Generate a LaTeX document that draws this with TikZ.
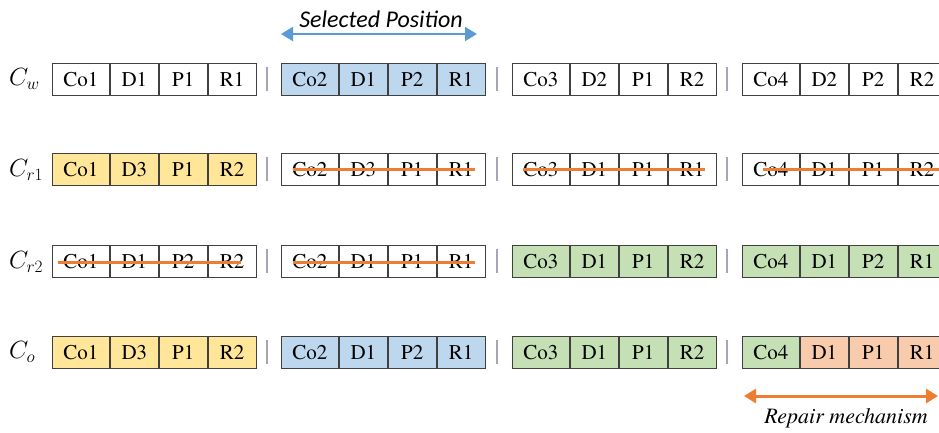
\documentclass[tikz,border=0pt]{standalone}
\usepackage{fontspec}
\newfontfamily\cellfont{texgyretermes}[Extension=.otf,UprightFont=*-regular,ItalicFont=*-italic]
\newfontfamily\calib{Carlito}
\usetikzlibrary{arrows.meta,calc}
\definecolor{cyel}{HTML}{FFE699}
\definecolor{cblue}{HTML}{BDD7EE}
\definecolor{cgreen}{HTML}{C5E0B4}
\definecolor{cpeach}{HTML}{F8CBAD}
\definecolor{corange}{HTML}{ED7D31}
\definecolor{carrow}{HTML}{5B9BD5}
\definecolor{cborder}{HTML}{404040}
\definecolor{csep}{HTML}{A8A4B8}
\newcommand{\blk}[9]{%
  \node[cell,fill=#4,minimum width=57pt] (#1a) at (#2,#3) {#6};
  \node[cell,fill=#5,minimum width=48pt] (#1b) at (#1a.north east) {#7};
  \node[cell,fill=#5,minimum width=48pt] (#1c) at (#1b.north east) {#8};
  \node[cell,fill=#5,minimum width=48pt] (#1d) at (#1c.north east) {#9};
}
\begin{document}
\begin{tikzpicture}[x=1pt,y=-1pt,
  cell/.style={draw=cborder,line width=0.9pt,inner sep=0pt,minimum height=32pt,
    anchor=north west,font=\cellfont\fontsize{21}{21}\selectfont,text=black},
  strike/.style={draw=corange,line width=3pt},
  sepline/.style={draw=csep,line width=1.2pt},
  rowlabel/.style={anchor=west,inner sep=0pt,font=\fontsize{24}{24}\selectfont},
  dblarrow/.style={line width=2pt,{Triangle[length=12pt,width=14pt]}-{Triangle[length=12pt,width=14pt]}}]
\useasboundingbox (0,0) rectangle (939,432);
\clip (0,0) rectangle (939,432);
\fill[white] (0,0) rectangle (939,432);

% row labels
\node[rowlabel] (lw) at (9,79) {$C_w$};
\node[rowlabel] (lr1) at (9,170) {$C_{r1}$};
\node[rowlabel] (lr2) at (9,262) {$C_{r2}$};
\node[rowlabel] (lo) at (9,352) {$C_o$};

% row Cw
\blk{wA}{52}{63}{white}{white}{Co1}{D1}{P1}{R1}
\blk{wB}{281}{63}{cblue}{cblue}{Co2}{D1}{P2}{R1}
\blk{wC}{512}{63}{white}{white}{Co3}{D2}{P1}{R2}
\blk{wD}{742}{63}{white}{white}{Co4}{D2}{P2}{R2}
% row Cr1
\blk{aA}{52}{153}{cyel}{cyel}{Co1}{D3}{P1}{R2}
\blk{aB}{281}{153}{white}{white}{Co2}{D3}{P1}{R1}
\blk{aC}{512}{153}{white}{white}{Co3}{D1}{P1}{R1}
\blk{aD}{742}{153}{white}{white}{Co4}{D1}{P1}{R2}
% row Cr2
\blk{bA}{52}{245}{white}{white}{Co1}{D1}{P2}{R2}
\blk{bB}{281}{245}{white}{white}{Co2}{D1}{P1}{R1}
\blk{bC}{512}{245}{cgreen}{cgreen}{Co3}{D1}{P1}{R2}
\blk{bD}{742}{245}{cgreen}{cgreen}{Co4}{D1}{P2}{R1}
% row Co
\blk{oA}{52}{336}{cyel}{cyel}{Co1}{D3}{P1}{R2}
\blk{oB}{281}{336}{cblue}{cblue}{Co2}{D1}{P2}{R1}
\blk{oC}{512}{336}{cgreen}{cgreen}{Co3}{D1}{P1}{R2}
\blk{oD}{742}{336}{cgreen}{cpeach}{Co4}{D1}{P1}{R1}

% separators
\foreach \t in {63,153,245,336}{
  \foreach \x in {267,497,727}{
    \draw[sepline] (\x,\t+4) -- (\x,\t+28);
  }
}

% strike-through lines
\draw[strike] ([xshift=12pt]aBa.west) -- ([xshift=-11pt]aBd.east);
\draw[strike] ([xshift=11pt]aCa.west) -- ([xshift=-12pt]aCd.east);
\draw[strike] ([xshift=21pt]aDa.west) -- ([xshift=20pt]aDd.east);
\draw[strike] ([xshift=6pt,yshift=-1pt]bAa.west) -- ([xshift=-16pt,yshift=-1pt]bAd.east);
\draw[strike] ([xshift=12pt,yshift=-1pt]bBa.west) -- ([xshift=-11pt,yshift=-1pt]bBd.east);

% selected position
\coordinate (s1) at (281,34);
\coordinate (s2) at (477,34);
\draw[dblarrow,draw=carrow,fill=carrow] (s1) -- (s2);
\node[font=\calib\itshape\fontsize{24}{24}\selectfont,anchor=center] (sel) at (381,19) {Selected Position};

% repair mechanism
\coordinate (r1) at (744,396);
\coordinate (r2) at (938,396);
\draw[dblarrow,line width=3pt,draw=corange,fill=corange] (r1) -- (r2);
\node[font=\cellfont\itshape\fontsize{22}{22}\selectfont,anchor=center] (rep) at (846,418) {Repair mechanism};
\end{tikzpicture}
\end{document}
